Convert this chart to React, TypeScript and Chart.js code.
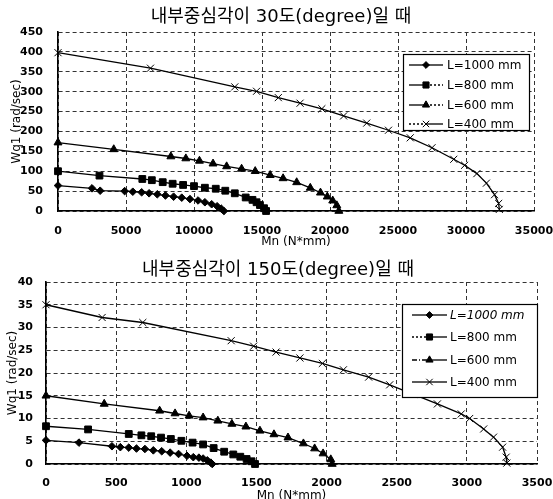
import React, { useEffect, useRef } from 'react';
import { Chart, registerables } from 'chart.js';

Chart.register(...registerables);

// ---------- text ----------
const SERIES_LABELS = ['L=1000 mm', 'L=800 mm', 'L=600 mm', 'L=400 mm'];
const TITLE_30 = '내부중심각이 30도(degree)일 때';
const TITLE_150 = '내부중심각이 150도(degree)일 때';
const X_TITLE = 'Mn (N*mm)';
const Y_TITLE = 'Wq1 (rad/sec)';

// ---------- ticks ----------
const X_TICKS_30 = [0, 5000, 10000, 15000, 20000, 25000, 30000, 35000];
const Y_TICKS_30 = [0, 50, 100, 150, 200, 250, 300, 350, 400, 450];
const X_TICKS_150 = [0, 500, 1000, 1500, 2000, 2500, 3000, 3500];
const Y_TICKS_150 = [0, 5, 10, 15, 20, 25, 30, 35, 40];

// ---------- data: 30 degree ----------
const A30_L1000_X = [0, 2500, 3100, 4900, 5500, 6150, 6700, 7300, 7900, 8500, 9100, 9700, 10300, 10800, 11300, 11700, 12000, 12200];
const A30_L1000_Y = [64, 57, 51, 50, 48.5, 47, 44.5, 42, 39, 36, 33.5, 30, 26.5, 22, 17, 12, 6, 0];
const A30_L800_X = [0, 3050, 6200, 6900, 7700, 8430, 9200, 10000, 10800, 11600, 12300, 13000, 13800, 14300, 14600, 14850, 15150, 15300];
const A30_L800_Y = [100, 89, 80.5, 77.5, 72.5, 68.5, 65.5, 62.5, 58.5, 56, 51, 44.5, 34, 28, 22, 15, 7, 0];
const A30_L600_X = [0, 4100, 8300, 9400, 10400, 11400, 12400, 13500, 14500, 15600, 16550, 17550, 18550, 19300, 19800, 20200, 20500, 20650];
const A30_L600_Y = [172, 155, 137, 132, 126, 119, 112, 106, 100, 90, 82, 72, 58, 46, 36, 26, 14, 0];
const A30_L400_X = [0, 6800, 13000, 14600, 16200, 17800, 19400, 21000, 22700, 24300, 25900, 27500, 29100, 29900, 30800, 31500, 32100, 32400, 32450];
const A30_L400_Y = [398, 359, 312, 301, 285, 271, 257, 239, 221, 203, 184, 159, 130, 115, 94, 70, 41, 19, 4];

// ---------- data: 150 degree ----------
const A150_L1000_X = [0, 235, 470, 530, 590, 645, 705, 765, 825, 885, 945, 1005, 1050, 1090, 1120, 1150, 1175, 1185];
const A150_L1000_Y = [5.2, 4.7, 3.9, 3.7, 3.6, 3.4, 3.3, 3.0, 2.8, 2.5, 2.2, 1.8, 1.5, 1.4, 1.2, 0.8, 0.3, 0];
const A150_L800_X = [0, 300, 590, 680, 750, 820, 890, 965, 1045, 1120, 1195, 1270, 1335, 1385, 1430, 1465, 1490];
const A150_L800_Y = [8.3, 7.6, 6.6, 6.3, 6.1, 5.8, 5.5, 5.1, 4.7, 4.3, 3.5, 2.7, 2.1, 1.6, 1.1, 0.6, 0];
const A150_L600_X = [0, 415, 810, 920, 1020, 1120, 1225, 1325, 1425, 1525, 1625, 1725, 1835, 1915, 1975, 2030, 2040];
const A150_L600_Y = [15, 13.2, 11.7, 11.1, 10.6, 10.2, 9.5, 8.8, 8.2, 7.3, 6.5, 5.8, 4.5, 3.4, 2.3, 1, 0];
const A150_L400_X = [0, 400, 690, 1320, 1480, 1640, 1810, 1970, 2120, 2300, 2450, 2620, 2790, 2960, 3020, 3120, 3190, 3255, 3280, 3285];
const A150_L400_Y = [35, 32.2, 31.1, 27.1, 25.9, 24.6, 23.3, 22.1, 20.7, 19.1, 17.4, 15.3, 13.2, 11, 10, 7.7, 5.9, 3.7, 1.5, 0.2];

// ---------- styles ----------
const FONT = '"DejaVu Sans", "Noto Sans CJK KR", sans-serif';
const POINT_STYLES = ['rectRot', 'rect', 'triangle', 'crossRot'];
const POINT_RADII = [3.8, 4.8, 4.6, 5];
const SOLID: number[] = [];
const DOT = [2, 2];
const DASHDOT = [5, 2, 1, 2];

type LegendCfg = {
  x: number; y: number; w: number; h: number;
  rowY: number[]; lineX1: number; lineX2: number; textX: number;
  italicRows: number[]; dashes: number[][][];
};

type Panel = {
  title: string; titleX: number; titleY: number;
  xs: number[][]; ys: number[][];
  xTicks: number[]; yTicks: number[];
  canvasH: number; boxH: number;
  yAxisW: number; xAxisH: number; padRight: number; padTop: number;
  yTitlePad: number; xTitlePad: number;
  xTickPad: number; yTickPad: number;
  legend: LegendCfg;
};

const PANELS: Panel[] = [
  {
    title: TITLE_30, titleX: 281, titleY: 17.5,
    xs: [A30_L1000_X, A30_L800_X, A30_L600_X, A30_L400_X],
    ys: [A30_L1000_Y, A30_L800_Y, A30_L600_Y, A30_L400_Y],
    xTicks: X_TICKS_30, yTicks: Y_TICKS_30,
    canvasH: 250, boxH: 250,
    yAxisW: 58, xAxisH: 39, padRight: 19, padTop: 32,
    yTitlePad: 10, xTitlePad: 1,
    xTickPad: 14, yTickPad: 15,
    legend: {
      x: 403, y: 54, w: 126, h: 76,
      rowY: [65, 85, 105, 124], lineX1: 409, lineX2: 443, textX: 447,
      italicRows: [],
      dashes: [[SOLID, SOLID], [SOLID, DOT], [SOLID, DOT], [DOT, SOLID]],
    },
  },
  {
    title: TITLE_150, titleX: 278, titleY: 20.5,
    xs: [A150_L1000_X, A150_L800_X, A150_L600_X, A150_L400_X],
    ys: [A150_L1000_Y, A150_L800_Y, A150_L600_Y, A150_L400_Y],
    xTicks: X_TICKS_150, yTicks: Y_TICKS_150,
    canvasH: 256, boxH: 249,
    yAxisW: 46, xAxisH: 42, padRight: 16, padTop: 32,
    yTitlePad: 6, xTitlePad: 3.3,
    xTickPad: 13, yTickPad: 13,
    legend: {
      x: 402, y: 54, w: 135, h: 93,
      rowY: [65, 87, 110, 132], lineX1: 412, lineX2: 447, textX: 450,
      italicRows: [0],
      dashes: [[SOLID, SOLID], [DOT, SOLID], [DASHDOT, SOLID], [SOLID, SOLID]],
    },
  },
];

function drawMarker(ctx: CanvasRenderingContext2D, style: string, x: number, y: number, r: number) {
  ctx.save();
  ctx.fillStyle = '#000';
  ctx.strokeStyle = '#000';
  ctx.lineWidth = 1;
  ctx.setLineDash([]);
  ctx.beginPath();
  if (style === 'rectRot') {
    ctx.moveTo(x, y - r); ctx.lineTo(x + r, y); ctx.lineTo(x, y + r); ctx.lineTo(x - r, y);
    ctx.closePath(); ctx.fill(); ctx.stroke();
  } else if (style === 'rect') {
    const s = r * Math.SQRT1_2;
    ctx.rect(x - s, y - s, 2 * s, 2 * s); ctx.fill(); ctx.stroke();
  } else if (style === 'triangle') {
    for (let k = 0; k < 3; k++) {
      const a = k * (2 * Math.PI / 3);
      const px = x + Math.sin(a) * r, py = y - Math.cos(a) * r;
      if (k === 0) ctx.moveTo(px, py); else ctx.lineTo(px, py);
    }
    ctx.closePath(); ctx.fill(); ctx.stroke();
  } else {
    const d = r * Math.SQRT1_2;
    ctx.moveTo(x - d, y - d); ctx.lineTo(x + d, y + d);
    ctx.moveTo(x + d, y - d); ctx.lineTo(x - d, y + d);
    ctx.stroke();
  }
  ctx.restore();
}

function decorPlugin(p: Panel) {
  const cfg = p.legend;
  return {
    id: 'decor',
    afterDraw(chart: any) {
      const ctx: CanvasRenderingContext2D = chart.ctx;
      ctx.save();
      // title
      ctx.fillStyle = '#000';
      ctx.textAlign = 'center';
      ctx.textBaseline = 'middle';
      ctx.font = `18px ${FONT}`;
      ctx.fillText(p.title, p.titleX, p.titleY);
      // legend box
      ctx.fillStyle = '#fff';
      ctx.fillRect(cfg.x, cfg.y, cfg.w, cfg.h);
      ctx.strokeStyle = '#000';
      ctx.lineWidth = 1.2;
      ctx.setLineDash([]);
      ctx.strokeRect(cfg.x + 0.5, cfg.y + 0.5, cfg.w, cfg.h);
      chart.data.datasets.forEach((ds: any, i: number) => {
        const y = cfg.rowY[i];
        const mid = (cfg.lineX1 + cfg.lineX2) / 2;
        ctx.strokeStyle = '#000';
        ctx.lineWidth = 1.3;
        ctx.setLineDash(cfg.dashes[i][0]);
        ctx.beginPath(); ctx.moveTo(cfg.lineX1, y); ctx.lineTo(mid, y); ctx.stroke();
        ctx.setLineDash(cfg.dashes[i][1]);
        ctx.beginPath(); ctx.moveTo(mid, y); ctx.lineTo(cfg.lineX2, y); ctx.stroke();
        ctx.setLineDash([]);
        drawMarker(ctx, POINT_STYLES[i], mid, y, POINT_RADII[i] * 0.9);
        ctx.fillStyle = '#000';
        ctx.textBaseline = 'middle';
        ctx.textAlign = 'left';
        const italic = cfg.italicRows.indexOf(i) >= 0 ? 'italic ' : '';
        ctx.font = `${italic}12px ${FONT}`;
        ctx.fillText(ds.label, cfg.textX, y + 0.5);
      });
      ctx.restore();
    },
  };
}

function makeChart(canvas: HTMLCanvasElement, p: Panel) {
  const datasets = SERIES_LABELS.map((label, i) => ({
    label,
    data: p.xs[i].map((x, j) => ({ x, y: p.ys[i][j] })),
    showLine: true,
    borderColor: '#000',
    borderWidth: 1.3,
    backgroundColor: '#000',
    pointStyle: POINT_STYLES[i],
    pointRadius: POINT_RADII[i],
    pointBorderWidth: 1,
    pointBackgroundColor: '#000',
    pointBorderColor: '#000',
    tension: 0,
    clip: false,
  }));
  const tickFont = { family: FONT, size: 11, weight: 'bold' as const };
  const titleFont = { family: FONT, size: 12, weight: 'normal' as const };
  const xMax = p.xTicks[p.xTicks.length - 1];
  const yMax = p.yTicks[p.yTicks.length - 1];
  const fmt = (v: any) => String(v);
  return new Chart(canvas, {
    type: 'scatter',
    data: { datasets: datasets as any },
    plugins: [decorPlugin(p)],
    options: {
      responsive: false,
      animation: false,
      devicePixelRatio: 1,
      layout: { padding: { left: 0, right: p.padRight, top: p.padTop, bottom: 0 } },
      plugins: {
        legend: { display: false },
        tooltip: { enabled: false },
        title: { display: false },
      },
      scales: {
        x: {
          type: 'linear',
          min: p.xTicks[0],
          max: xMax,
          afterBuildTicks: (s: any) => { s.ticks = p.xTicks.map((v) => ({ value: v })); },
          afterFit: (s: any) => { s.height = p.xAxisH; s.paddingLeft = 0; s.paddingRight = 0; },
          ticks: { color: '#000', font: tickFont, padding: p.xTickPad, maxRotation: 0, autoSkip: false, callback: fmt },
          grid: { color: '#333', lineWidth: 1, drawTicks: false },
          border: { display: true, color: '#000', width: 1.6, dash: [4, 3] },
          title: { display: true, text: X_TITLE, color: '#000', font: titleFont, padding: { top: 0, bottom: p.xTitlePad } },
        },
        y: {
          type: 'linear',
          min: p.yTicks[0],
          max: yMax,
          afterBuildTicks: (s: any) => { s.ticks = p.yTicks.map((v) => ({ value: v })); },
          afterFit: (s: any) => { s.width = p.yAxisW; s.paddingTop = 0; s.paddingBottom = 0; },
          ticks: { color: '#000', font: tickFont, padding: p.yTickPad, autoSkip: false, callback: fmt },
          grid: { color: '#333', lineWidth: 1, drawTicks: false },
          border: { display: true, color: '#000', width: 1.6, dash: [4, 3] },
          title: { display: true, text: Y_TITLE, color: '#000', font: titleFont, padding: { top: p.yTitlePad, bottom: 0 } },
        },
      },
    } as any,
  });
}

export default function App() {
  const ref1 = useRef<HTMLCanvasElement | null>(null);
  const ref2 = useRef<HTMLCanvasElement | null>(null);

  useEffect(() => {
    const charts: Chart[] = [];
    if (ref1.current) charts.push(makeChart(ref1.current, PANELS[0]));
    if (ref2.current) charts.push(makeChart(ref2.current, PANELS[1]));
    return () => { charts.forEach((c) => c.destroy()); };
  }, []);

  return (
    <div style={{ position: 'absolute', left: 0, top: 0, width: 553, height: 499, overflow: 'hidden', background: '#fff' }}>
      <div style={{ width: 553, height: PANELS[0].boxH, overflow: 'hidden' }}>
        <canvas ref={ref1} width={553} height={PANELS[0].canvasH} style={{ display: 'block', width: 553, height: PANELS[0].canvasH }} />
      </div>
      <div style={{ width: 553, height: PANELS[1].boxH, overflow: 'hidden' }}>
        <canvas ref={ref2} width={553} height={PANELS[1].canvasH} style={{ display: 'block', width: 553, height: PANELS[1].canvasH }} />
      </div>
    </div>
  );
}
